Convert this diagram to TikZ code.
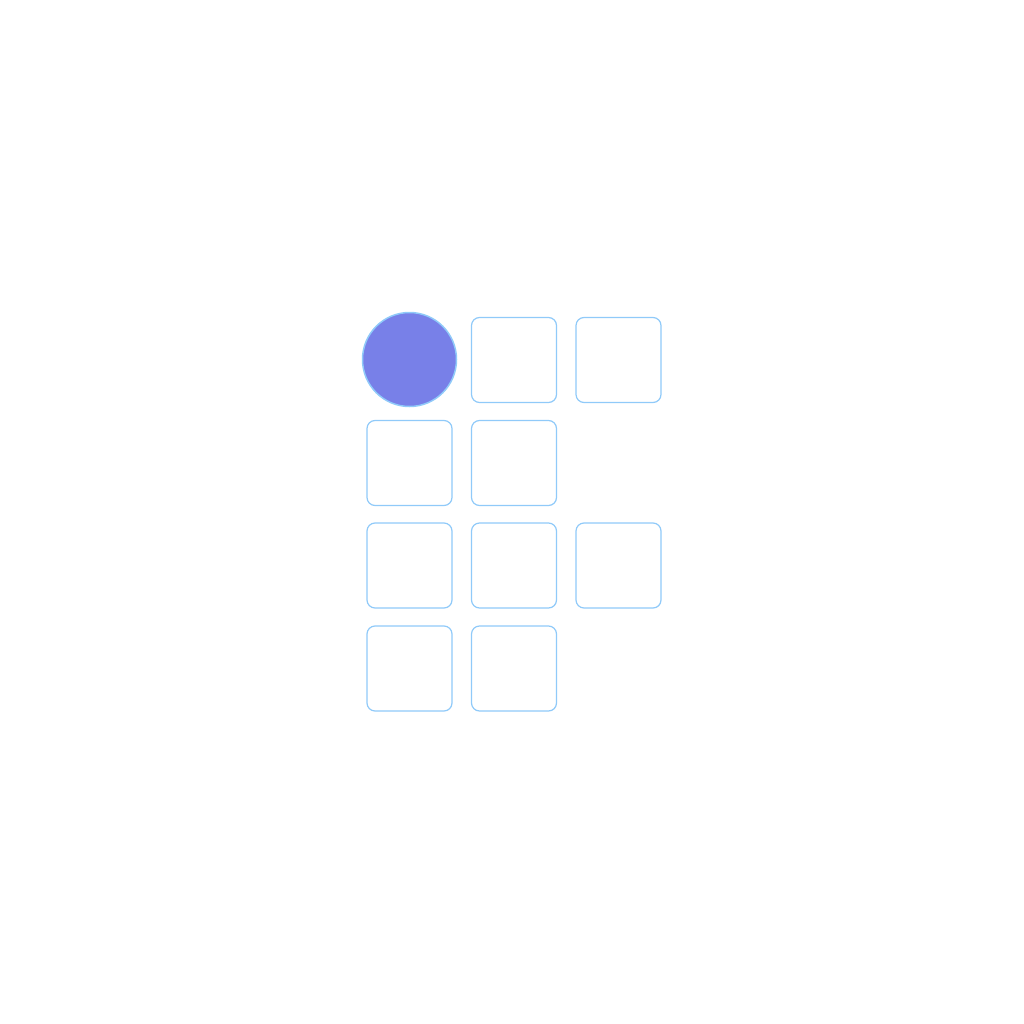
\documentclass[tikz,border=0pt]{standalone}
\begin{document}
\begin{tikzpicture}[x=1pt,y=-1pt,
  cell/.style={draw=edgeblue, line width=1.2pt, rounded corners=8pt, fill=white},
  dot/.style={draw=edgeblue, line width=1.5pt, fill=dotblue, circle, minimum size=94pt, inner sep=0pt}]
\definecolor{edgeblue}{HTML}{90CAF9}
\definecolor{dotblue}{HTML}{7880E8}
\useasboundingbox (0,0) rectangle (1024,1024);
\node[dot] (c11) at (409.5,359.5) {};
\draw[cell] (471.5,317.5) rectangle (556.5,402.5) coordinate (c12);
\draw[cell] (576,317.5) rectangle (661,402.5) coordinate (c13);
\draw[cell] (367,420.5) rectangle (452,505.5) coordinate (c21);
\draw[cell] (471.5,420.5) rectangle (556.5,505.5) coordinate (c22);
\draw[cell] (367,523) rectangle (452,608) coordinate (c31);
\draw[cell] (471.5,523) rectangle (556.5,608) coordinate (c32);
\draw[cell] (576,523) rectangle (661,608) coordinate (c33);
\draw[cell] (367,626) rectangle (452,711) coordinate (c41);
\draw[cell] (471.5,626) rectangle (556.5,711) coordinate (c42);
\end{tikzpicture}
\end{document}
